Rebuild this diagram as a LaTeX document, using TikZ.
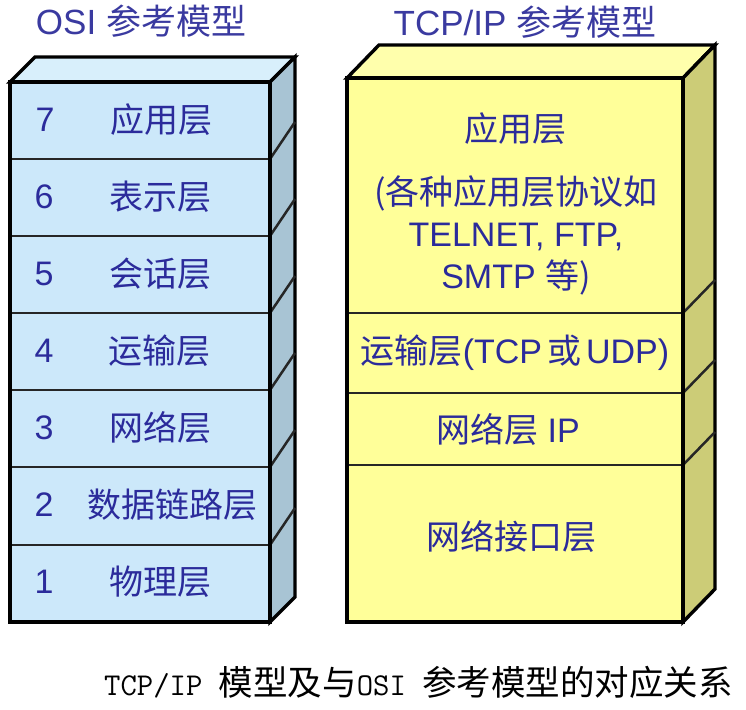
\documentclass[tikz,border=0pt]{standalone}
\usepackage{fontspec}
\setmainfont{Liberation Sans}
\newfontfamily\zhfont{Noto Sans CJK SC}
\newcommand{\zh}[1]{{\zhfont #1}}
\definecolor{txtblue}{RGB}{43,43,155}
\definecolor{ttlblue}{RGB}{58,58,160}
\definecolor{osifront}{RGB}{204,232,250}
\definecolor{ositop}{RGB}{216,239,251}
\definecolor{osiside}{RGB}{168,196,212}
\definecolor{tcpfront}{RGB}{255,255,153}
\definecolor{tcptop}{RGB}{255,255,172}
\definecolor{tcpside}{RGB}{204,204,119}
\tikzset{
  outer/.style={draw=black,line width=3.4pt},
  inner/.style={draw=black!85,line width=2.5pt},
  lbl/.style={text=txtblue,font=\fontsize{34}{42}\selectfont,inner sep=0pt},
  ttl/.style={text=ttlblue,font=\fontsize{35}{40}\selectfont,inner sep=0pt},
}
\begin{document}
\begin{tikzpicture}[x=1pt,y=-1pt]
\useasboundingbox (0,0) rectangle (746,709);
\fill[white] (0,0) rectangle (746,709);
% ---------- OSI box ----------
\filldraw[fill=ositop,outer] (10,82) -- (35,57) -- (295,57) -- (270,82) -- cycle;
\filldraw[fill=osiside,outer] (270,82) -- (295,57) -- (295,597) -- (270,622) -- cycle;
\filldraw[fill=osifront,outer] (10,82) rectangle (270,622);
\foreach \yy in {159,236,313,390,467,545}{
  \draw[inner] (10,\yy) -- (270,\yy);
  \draw[inner] (270,\yy) -- (295,\yy-37);
}
\draw[outer] (10,82) rectangle (270,622);
% ---------- TCP/IP box ----------
\filldraw[fill=tcptop,outer] (347,78) -- (379,45) -- (715,45) -- (683,78) -- cycle;
\filldraw[fill=tcpside,outer] (683,78) -- (715,45) -- (715,589) -- (683,622) -- cycle;
\filldraw[fill=tcpfront,outer] (347,78) rectangle (683,622);
\foreach \yy in {313,393,465}{
  \draw[inner] (347,\yy) -- (683,\yy);
  \draw[inner] (683,\yy) -- (715,\yy-33);
}
\draw[outer] (347,78) rectangle (683,622);
% ---------- titles ----------
\node[ttl] (osititle) at (141,21) {OSI \zh{参考模型}};
\node[ttl] (tcptitle) at (525,22) {TCP/IP \zh{参考模型}};
% ---------- OSI labels ----------
\node[lbl] (n7) at (45,120) {7}; \node[lbl] (l7) at (161,120) {\zh{应用层}};
\node[lbl] (n6) at (44,197) {6}; \node[lbl] (l6) at (160,197) {\zh{表示层}};
\node[lbl] (n5) at (44,274) {5}; \node[lbl] (l5) at (160,274) {\zh{会话层}};
\node[lbl] (n4) at (44,351) {4}; \node[lbl] (l4) at (159,351) {\zh{运输层}};
\node[lbl] (n3) at (44,428) {3}; \node[lbl] (l3) at (160,428) {\zh{网络层}};
\node[lbl] (n2) at (44,505) {2}; \node[lbl] (l2) at (172,505) {\zh{数据链路层}};
\node[lbl] (n1) at (44,582) {1}; \node[lbl] (l1) at (160,582) {\zh{物理层}};
% ---------- TCP/IP labels ----------
\node[lbl] (app) at (515,129) {\zh{应用层}};
\node[lbl,align=center] (appproto) at (516,235) {\zh{(各种应用层协议如}\\TELNET, FTP,\\SMTP \zh{等)}};
\node[lbl] (trans) at (515,353) {\zh{运输层}(TCP\hspace{5pt}\zh{或}\hspace{5pt}UDP)};
\node[lbl] (net) at (508,430) {\zh{网络层} IP};
\node[lbl] (iface) at (511,537) {\zh{网络接口层}};
% ---------- caption ----------
\node[anchor=west,inner sep=0pt,text=black] (caption) at (104,682)
  {{\ttfamily\fontsize{31.8}{34}\selectfont TCP/IP }{\zhfont\fontsize{34.5}{36}\selectfont 模型及与}{\ttfamily\fontsize{31.8}{34}\selectfont OSI }{\zhfont\fontsize{34.5}{36}\selectfont 参考模型的对应关系}};
\end{tikzpicture}
\end{document}
